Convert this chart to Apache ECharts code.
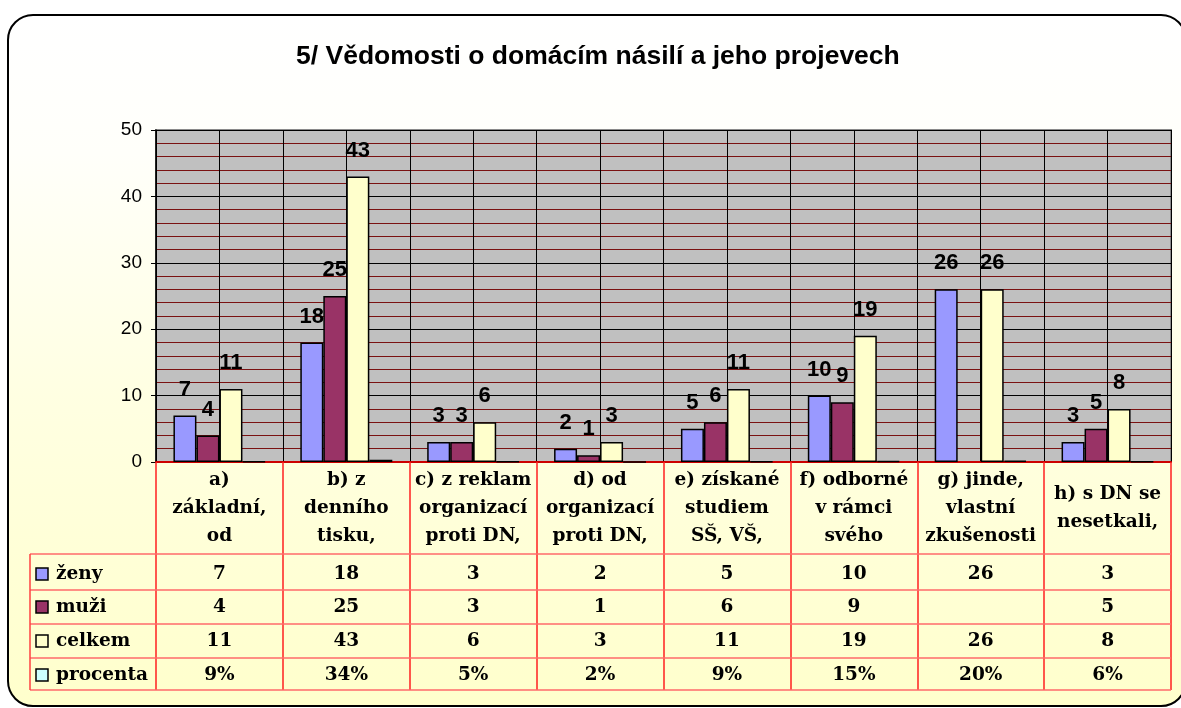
<!DOCTYPE html>
<html>
<head>
<meta charset="utf-8">
<title>Vědomosti o domácím násilí</title>
<script src="https://cdn.jsdelivr.net/npm/echarts@6/dist/echarts.min.js"></script>
<style>
html, body { margin: 0; padding: 0; background: #fff; overflow: hidden; }
#frame {
    position: absolute; left: 7px; top: 14px; width: 1176px; height: 689px;
    border: 2px solid #000; border-radius: 26px;
    background: linear-gradient(180deg, #ffffff 0%, #fffffa 20%, #ffffe2 55%, #ffffcc 100%);
}
#chart { position: absolute; left: 0; top: 0; width: 1181px; height: 708px; }
</style>
</head>
<body>
<div id="frame"></div>
<div id="chart"></div>
<script>
// data
const categories = [
    'a)\nzákladní,\nod',
    'b) z\ndenního\ntisku,',
    'c) z reklam\norganizací\nproti DN,',
    'd) od\norganizací\nproti DN,',
    'e) získané\nstudiem\nSŠ, VŠ,',
    'f) odborné\nv rámci\nsvého',
    'g) jinde,\nvlastní\nzkušenosti',
    'h) s DN se\nnesetkali,'
]
const zeny = [7, 18, 3, 2, 5, 10, 26, 3]
const muzi = [4, 25, 3, 1, 6, 9, null, 5]
const celkem = [11, 43, 6, 3, 11, 19, 26, 8]
const procenta = [0.09, 0.34, 0.05, 0.02, 0.09, 0.15, 0.20, 0.06]
const yMin = 0
const yMax = 50
const yStep = 10

const serifFont = '"DejaVu Serif", "Liberation Serif", serif'
const sansFont = '"Liberation Sans", Arial, sans-serif'
const tableFontSize = 18.5

const rows = [
    { name: 'ženy', color: '#9999FF', values: zeny, fmt: v => v == null ? '' : String(v) },
    { name: 'muži', color: '#993366', values: muzi, fmt: v => v == null ? '' : String(v) },
    { name: 'celkem', color: '#FFFFCC', values: celkem, fmt: v => v == null ? '' : String(v) },
    { name: 'procenta', color: '#CCFFFF', values: procenta, fmt: v => Math.round(v * 100) + '%' }
]
// table row centres / lines (px)
const rowCenters = [574, 607, 641, 675]
const rowLines = [554, 590, 624, 658, 690]

const chart = echarts.init(document.getElementById('chart'))

const valueAxes = rows.map((r, i) => ({
    type: 'category',
    data: categories,
    position: 'bottom',
    axisLine: { show: false },
    axisTick: { show: false },
    splitLine: { show: false },
    axisLabel: {
        interval: 0,
        margin: rowCenters[i] - 462,
        verticalAlign: 'middle',
        color: '#000',
        fontFamily: serifFont,
        fontWeight: 'bold',
        fontSize: tableFontSize,
        formatter: (v, idx) => r.fmt(r.values[idx])
    }
}))

const graphics = []
rowLines.forEach(y => {
    graphics.push({
        type: 'line', silent: true, z: 10,
        shape: { x1: 30, y1: y, x2: 1171, y2: y },
        style: { stroke: '#FF6A6A', lineWidth: 1.5 }
    })
})
graphics.push({
    type: 'line', silent: true, z: 10,
    shape: { x1: 30, y1: rowLines[0], x2: 30, y2: rowLines[4] },
    style: { stroke: '#FF4040', lineWidth: 1.5 }
})
rows.forEach((r, i) => {
    graphics.push({
        type: 'rect', silent: true, z: 11,
        shape: { x: 36, y: rowCenters[i] - 6, width: 12, height: 12 },
        style: { fill: r.color, stroke: '#000', lineWidth: 1.5 }
    })
    graphics.push({
        type: 'text', silent: true, z: 11,
        x: 56, y: rowCenters[i],
        style: {
            text: r.name, fill: '#000',
            font: 'bold ' + tableFontSize + 'px ' + serifFont,
            verticalAlign: 'middle', align: 'left'
        }
    })
})

function barSeries (name, data, color, withLabel) {
    return {
        name: name,
        type: 'bar',
        data: data,
        barWidth: 23,
        barGap: '0%',
        itemStyle: { color: color, borderColor: '#000', borderWidth: 1.5 },
        label: {
            show: withLabel,
            position: 'top',
            distance: 15,
            color: '#000',
            fontFamily: sansFont,
            fontWeight: 'bold',
            fontSize: 22
        },
        emphasis: { disabled: true }
    }
}

const option = {
    animation: false,
    title: {
        text: '5/ Vědomosti o domácím násilí a jeho projevech',
        left: 291,
        top: 38,
        textStyle: { fontFamily: sansFont, fontWeight: 'bold', fontSize: 26.5, color: '#000' }
    },
    grid: {
        left: 156, right: 10, top: 130, bottom: 246,
        show: true,
        backgroundColor: '#C0C0C0',
        borderColor: '#8A8A8A',
        borderWidth: 2
    },
    xAxis: [
        {
            type: 'category',
            data: categories,
            position: 'bottom',
            axisLine: { lineStyle: { color: '#CC0000', width: 2 } },
            axisTick: { show: true, interval: 0, length: 228, lineStyle: { color: '#FF2020', width: 1.5 } },
            splitLine: { show: false },
            axisLabel: {
                interval: 0,
                margin: 46,
                verticalAlign: 'middle',
                lineHeight: 28,
                color: '#000',
                fontFamily: serifFont,
                fontWeight: 'bold',
                fontSize: tableFontSize
            }
        },
        {
            // half-category vertical grid lines
            type: 'value',
            min: 0,
            max: categories.length,
            interval: 0.5,
            position: 'top',
            axisLine: { show: false },
            axisTick: { show: false },
            axisLabel: { show: false },
            splitLine: { show: true, lineStyle: { color: '#000', width: 1 } }
        }
    ].concat(valueAxes),
    yAxis: {
        type: 'value',
        min: yMin,
        max: yMax,
        interval: yStep,
        axisLine: { show: true, lineStyle: { color: '#000', width: 1.5 } },
        axisTick: { show: true, length: 5, lineStyle: { color: '#000' } },
        axisLabel: { margin: 14, color: '#000', fontFamily: sansFont, fontSize: 19 },
        splitLine: { show: true, lineStyle: { color: '#000', width: 1 } },
        minorTick: { show: false, splitNumber: 5 },
        minorSplitLine: { show: true, lineStyle: { color: '#7A1212', width: 1.2 } }
    },
    series: [
        barSeries('ženy', zeny, '#9999FF', true),
        barSeries('muži', muzi, '#993366', true),
        barSeries('celkem', celkem, '#FFFFCC', true),
        barSeries('procenta', procenta, '#CCFFFF', false)
    ],
    graphic: graphics
}

chart.setOption(option)
</script>
</body>
</html>
